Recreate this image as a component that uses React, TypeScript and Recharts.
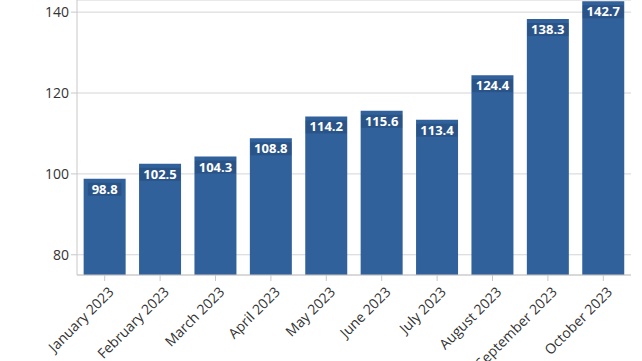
import React from 'react';
import { BarChart, Bar, XAxis, YAxis, CartesianGrid, LabelList } from 'recharts';

const months = ['January 2023', 'February 2023', 'March 2023', 'April 2023', 'May 2023', 'June 2023', 'July 2023', 'August 2023', 'September 2023', 'October 2023'];
const values = [98.8, 102.5, 104.3, 108.8, 114.2, 115.6, 113.4, 124.4, 138.3, 142.7];
const yTicks = [80, 100, 120, 140];

const data = months.map((m, i) => ({ month: m, value: values[i] }));

const FONT = '"Open Sans", "Noto Sans", sans-serif';

const renderLabel = (props: any) => {
  const { x, y, width, value } = props;
  const cx = x + width / 2;
  const text = value.toFixed(1);
  const w = text.length * 7.4 + 4;
  return (
    <g>
      <rect x={cx - w / 2} y={y + 4} width={w} height={13} fill="#2a5488" />
      <text x={cx} y={y + 15} textAnchor="middle" fill="#ffffff" fontFamily={FONT} fontSize={13} fontWeight={700}>
        {text}
      </text>
    </g>
  );
};

const XTick = (props: any) => {
  const { x, y, payload } = props;
  return (
    <g transform={`translate(${x},${y})`}>
      <text x={0} y={14} textAnchor="end" transform="rotate(-45)" fill="#333" fontFamily={FONT} fontSize={14}>
        {payload.value}
      </text>
    </g>
  );
};

export default function App() {
  return (
    <div style={{ position: 'absolute', left: 0, top: 0, background: '#fff' }}>
      <BarChart width={642} height={361} data={data} margin={{ top: 0, right: 11, left: 0, bottom: 0 }} barCategoryGap="12%">
        <CartesianGrid vertical={false} stroke="#d4d4d4" />
        <XAxis
          dataKey="month"
          interval={0}
          height={86}
          tick={<XTick />}
          tickSize={6}
          stroke="#c8c8c8"
          tickLine={{ stroke: '#c8c8c8' }}
        />
        <YAxis
          domain={[75, 143]}
          ticks={yTicks}
          width={77}
          tickSize={6}
          stroke="#c8c8c8"
          tick={{ fill: '#333', fontFamily: FONT, fontSize: 14 }}
          allowDataOverflow
        />
        <Bar dataKey="value" fill="#31619b" isAnimationActive={false}>
          <LabelList dataKey="value" content={renderLabel} />
        </Bar>
      </BarChart>
    </div>
  );
}
